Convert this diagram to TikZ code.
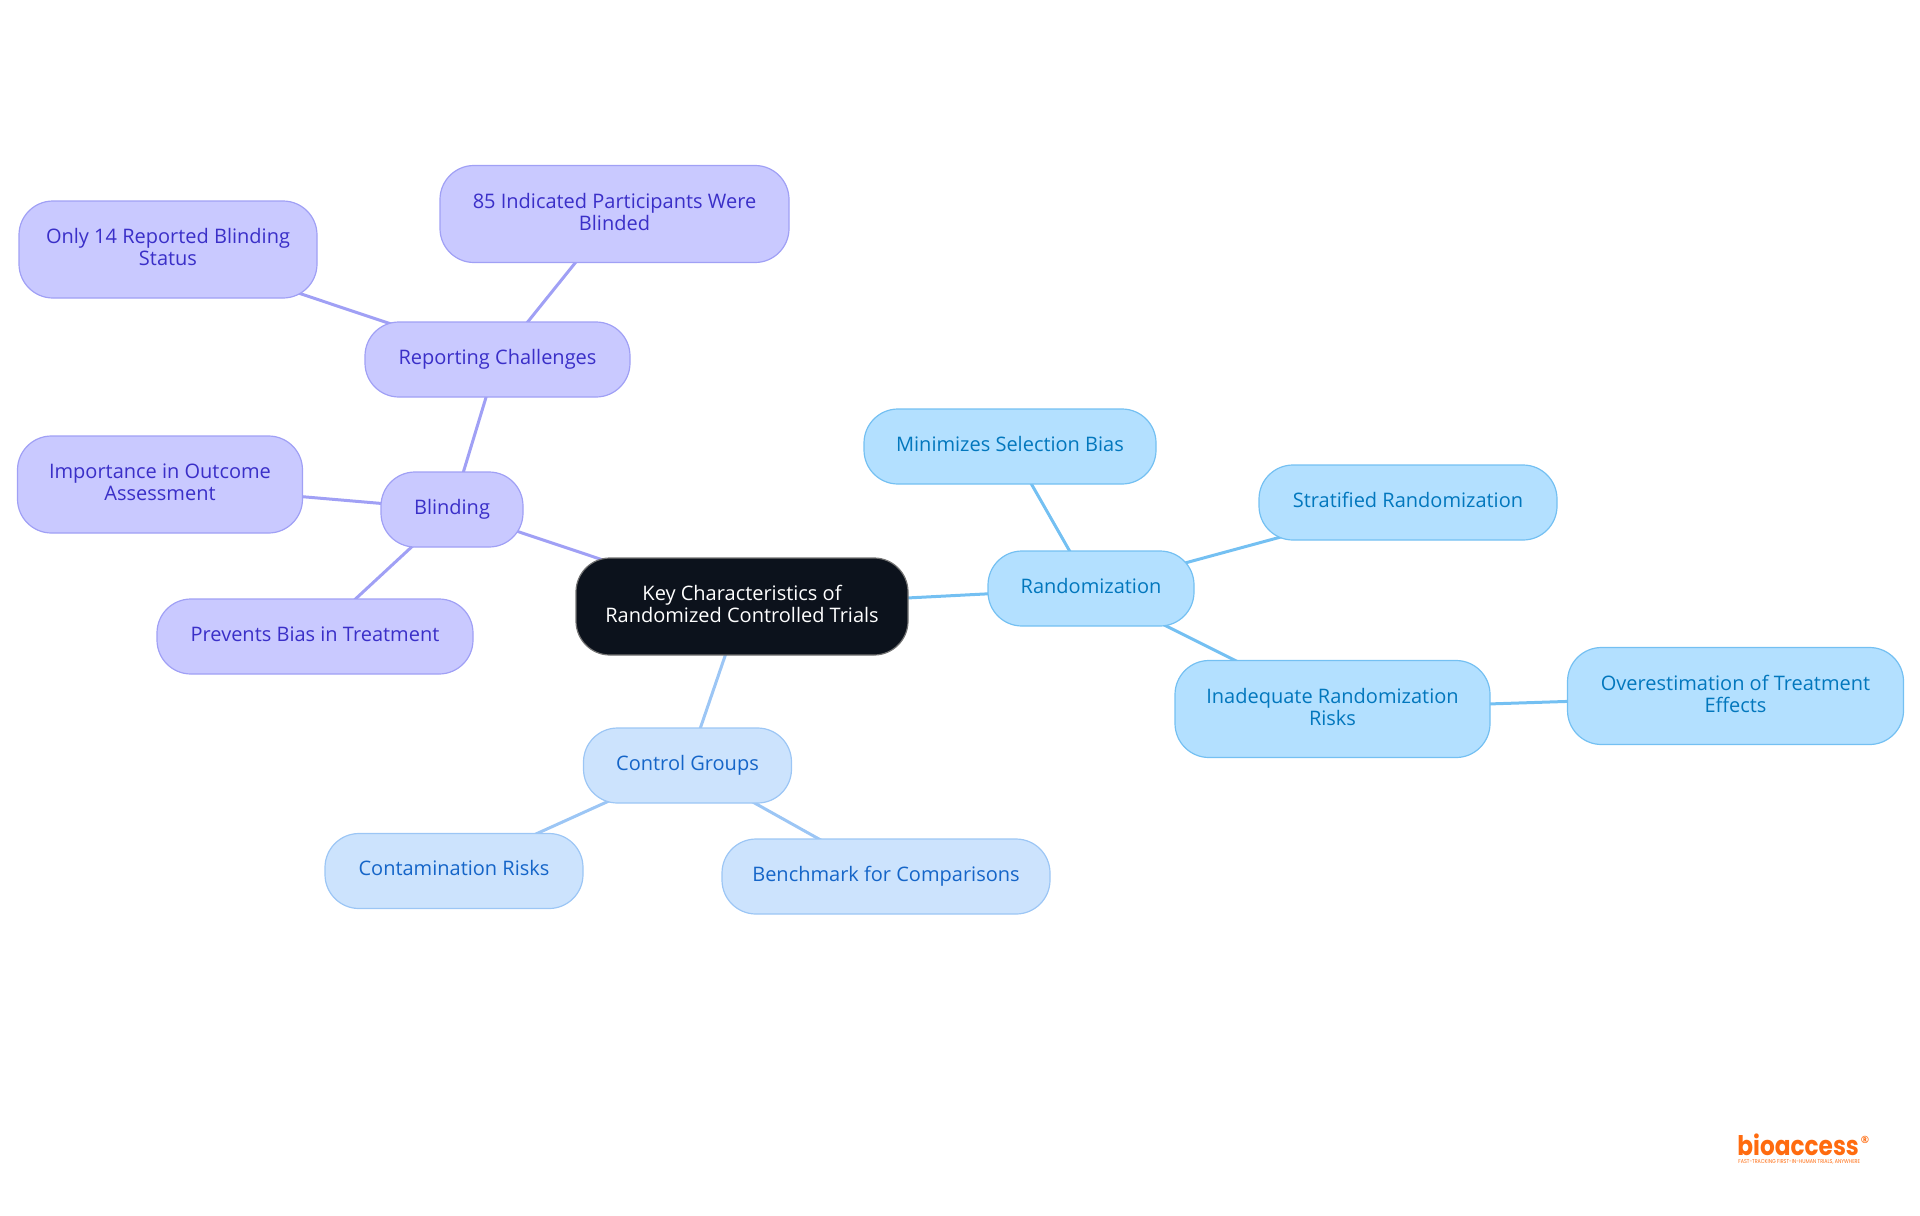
\documentclass[tikz,border=0pt]{standalone}
\usepackage{fontspec}
\setmainfont{Open Sans}
\newfontfamily\logofont[FakeStretch=0.86]{Poppins}
\usetikzlibrary{backgrounds}
\definecolor{rootfill}{HTML}{0C121C}
\definecolor{purplefill}{HTML}{C9C9FF}
\definecolor{purpleline}{HTML}{A0A0F5}
\definecolor{purpletext}{HTML}{3A2FC8}
\definecolor{bluefill}{HTML}{CCE3FD}
\definecolor{blueline}{HTML}{9CC6F5}
\definecolor{bluetext}{HTML}{1565C8}
\definecolor{skyfill}{HTML}{B3E0FF}
\definecolor{skyline}{HTML}{74C0F2}
\definecolor{skytext}{HTML}{0277BD}
\definecolor{logoorange}{HTML}{FF6B0F}
\tikzset{
  mapnode/.style={rounded corners=17pt, line width=.6pt, align=center, inner sep=0pt,
    minimum height=37.5pt, text height=7.6pt, text depth=3.1pt, font=\fontsize{10}{11}\selectfont},
  tall/.style={minimum height=48.5pt, text height=19pt, text depth=2.9pt},
  purplenode/.style={mapnode, draw=purpleline, fill=purplefill, text=purpletext},
  bluenode/.style={mapnode, draw=blueline, fill=bluefill, text=bluetext},
  skynode/.style={mapnode, draw=skyline, fill=skyfill, text=skytext},
  rootnode/.style={mapnode, tall, draw=black!55, fill=rootfill, text=white},
  purplelink/.style={purpleline, line width=1.5pt},
  bluelink/.style={blueline, line width=1.5pt},
  skylink/.style={skyline, line width=1.5pt}
}
\begin{document}
\begin{tikzpicture}[x=.5pt,y=-.5pt]
  \useasboundingbox (0,0) rectangle (1920,1215);

  \node[rootnode, minimum width=166pt] (root) at (742,606.5) {Key Characteristics of\\Randomized Controlled Trials};

  \node[purplenode, minimum width=71pt] (blinding) at (452,509.5) {Blinding};
  \node[purplenode, minimum width=132.5pt] (reporting) at (497.5,359.5) {Reporting Challenges};
  \node[purplenode, tall, minimum width=174.5pt] (indicated) at (614.5,214) {85 Indicated Participants Were\\Blinded};
  \node[purplenode, tall, minimum width=149pt] (only) at (168,249.5) {Only 14 Reported Blinding\\Status};
  \node[purplenode, tall, minimum width=142.5pt] (outcome) at (160,484.5) {Importance in Outcome\\Assessment};
  \node[purplenode, minimum width=158pt] (prevents) at (315,636.5) {Prevents Bias in Treatment};

  \node[bluenode, minimum width=104pt] (control) at (687.5,765.5) {Control Groups};
  \node[bluenode, minimum width=129pt] (contamination) at (454,871) {Contamination Risks};
  \node[bluenode, minimum width=164pt] (benchmark) at (886,876.5) {Benchmark for Comparisons};

  \node[skynode, minimum width=103pt] (random) at (1091,588.5) {Randomization};
  \node[skynode, minimum width=146pt] (minimizes) at (1010,446.5) {Minimizes Selection Bias};
  \node[skynode, minimum width=149pt] (stratified) at (1408,502.5) {Stratified Randomization};
  \node[skynode, tall, minimum width=157.5pt] (inadequate) at (1332.5,709) {Inadequate Randomization\\Risks};
  \node[skynode, tall, minimum width=168pt] (over) at (1735.5,696) {Overestimation of Treatment\\Effects};

  \begin{scope}[on background layer]
    \draw[purplelink] (root.center) -- (blinding.center);
    \draw[purplelink] (blinding.center) -- (reporting.center);
    \draw[purplelink] (reporting.center) -- (indicated.center);
    \draw[purplelink] (reporting.center) -- (only.center);
    \draw[purplelink] (blinding.center) -- (outcome.center);
    \draw[purplelink] (blinding.center) -- (prevents.center);
    \draw[bluelink] (root.center) -- (control.center);
    \draw[bluelink] (control.center) -- (contamination.center);
    \draw[bluelink] (control.center) -- (benchmark.center);
    \draw[skylink] (root.center) -- (random.center);
    \draw[skylink] (random.center) -- (minimizes.center);
    \draw[skylink] (random.center) -- (stratified.center);
    \draw[skylink] (random.center) -- (inadequate.center);
    \draw[skylink] (inadequate.center) -- (over.center);
  \end{scope}

  \node[text=logoorange, inner sep=0pt, anchor=base west, text depth=0pt, font=\logofont\bfseries\fontsize{13.5}{14}\selectfont] (logo) at (1737,1155) {bioaccess};
  \node[text=logoorange, inner sep=0pt, anchor=west, font=\logofont\fontsize{2.8}{3}\selectfont] (tagline) at (1738,1162) {FAST-TRACKING FIRST-IN-HUMAN TRIALS, ANYWHERE};
  \node[text=logoorange, inner sep=0pt, font=\bfseries\fontsize{5}{5}\selectfont] (reg) at (1865,1139.5) {\char"00AE};
\end{tikzpicture}
\end{document}
